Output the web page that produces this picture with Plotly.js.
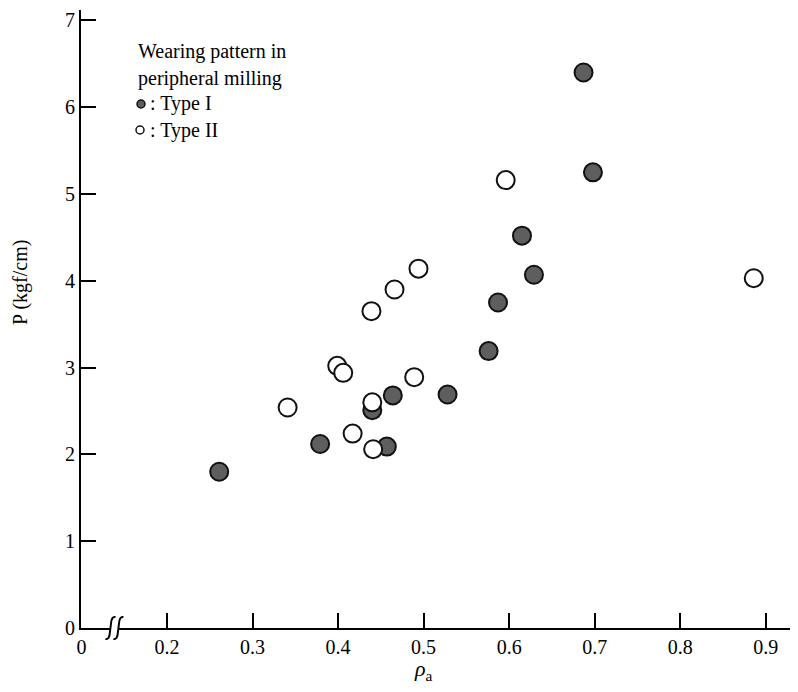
<!DOCTYPE html>
<html>
<head>
<meta charset="utf-8">
<script src="https://cdn.plot.ly/plotly-3.0.1.min.js"></script>
<style>html,body{margin:0;padding:0;background:#fff;}#chart{width:798px;height:692px;}</style>
</head>
<body>
<div id="chart"></div>
<script>
// Type I (filled) and Type II (open) points: rho_a vs P (kgf/cm)
const typeI_x = [0.261, 0.379, 0.440, 0.457, 0.464, 0.528, 0.576, 0.587, 0.615, 0.629, 0.687, 0.698];
const typeI_y = [1.80, 2.12, 2.51, 2.09, 2.68, 2.69, 3.19, 3.75, 4.52, 4.07, 6.40, 5.25];
const typeII_x = [0.341, 0.399, 0.406, 0.417, 0.440, 0.441, 0.439, 0.466, 0.489, 0.494, 0.596, 0.886];
const typeII_y = [2.54, 3.02, 2.94, 2.24, 2.60, 2.06, 3.65, 3.90, 2.89, 4.14, 5.16, 4.03];

const xTickVals = [0.1, 0.2, 0.3, 0.4, 0.5, 0.6, 0.7, 0.8, 0.9];
const xTickText = ['0', '0.2', '0.3', '0.4', '0.5', '0.6', '0.7', '0.8', '0.9'];
const yTickVals = [0, 1, 2, 3, 4, 5, 6, 7];
const yTickText = ['0', '1', '2', '3', '4', '5', '6', '7'];

const legendLines = ['Wearing pattern in', 'peripheral milling', ': Type I', ': Type II'];

const SERIF = '"Liberation Serif", "Times New Roman", serif';

const traces = [
  {
    x: typeI_x, y: typeI_y, type: 'scatter', mode: 'markers', name: 'Type I',
    marker: {symbol: 'circle', size: 18, color: '#5e5e5e', line: {color: '#111111', width: 2}}
  },
  {
    x: typeII_x, y: typeII_y, type: 'scatter', mode: 'markers', name: 'Type II',
    marker: {symbol: 'circle', size: 18, color: '#ffffff', line: {color: '#111111', width: 2}}
  }
];

const W = 798, H = 692, ML = 81, MR = 8, MT = 10, MB = 64;
const pw = W - ML - MR, ph = H - MT - MB;
const px = p => (p - ML) / pw;           // pixel -> paper x
const py = p => (H - MB - p) / ph;       // pixel -> paper y

const annotations = [
  {text: legendLines[0], x: px(136), y: py(52), xref: 'paper', yref: 'paper', xanchor: 'left', yanchor: 'middle', showarrow: false, font: {family: SERIF, size: 20, color: '#000'}},
  {text: legendLines[1], x: px(136), y: py(78), xref: 'paper', yref: 'paper', xanchor: 'left', yanchor: 'middle', showarrow: false, font: {family: SERIF, size: 20, color: '#000'}},
  {text: legendLines[2], x: px(148), y: py(104), xref: 'paper', yref: 'paper', xanchor: 'left', yanchor: 'middle', showarrow: false, font: {family: SERIF, size: 20, color: '#000'}},
  {text: legendLines[3], x: px(148), y: py(130), xref: 'paper', yref: 'paper', xanchor: 'left', yanchor: 'middle', showarrow: false, font: {family: SERIF, size: 20, color: '#000'}},
  {text: 'P (kgf/cm)', x: px(20), y: py(282), xref: 'paper', yref: 'paper', xanchor: 'center', yanchor: 'middle', textangle: -90, showarrow: false, font: {family: SERIF, size: 20, color: '#000'}},
  {text: '<i>ρ</i><sub>a</sub>', x: 0.5, xref: 'x', y: py(670), yref: 'paper', xanchor: 'center', yanchor: 'middle', showarrow: false, font: {family: SERIF, size: 22, color: '#000'}}
];

const shapes = [
  // legend symbols
  {type: 'circle', xref: 'paper', yref: 'paper', xsizemode: 'pixel', ysizemode: 'pixel', xanchor: px(141), yanchor: py(104), x0: -4, x1: 4, y0: -4, y1: 4, fillcolor: '#5e5e5e', line: {color: '#111', width: 1.5}},
  {type: 'circle', xref: 'paper', yref: 'paper', xsizemode: 'pixel', ysizemode: 'pixel', xanchor: px(140), yanchor: py(130), x0: -4, x1: 4, y0: -4, y1: 4, fillcolor: '#ffffff', line: {color: '#111', width: 1.5}},
  // axis break mark
  {type: 'rect', xref: 'x', yref: 'paper', xsizemode: 'pixel', ysizemode: 'pixel', xanchor: 0.1385, yanchor: 0, x0: -4, x1: 4, y0: -3, y1: 3, fillcolor: '#ffffff', line: {width: 0}, layer: 'above'},
  {type: 'path', xref: 'x', yref: 'paper', xsizemode: 'pixel', ysizemode: 'pixel', xanchor: 0.1385, yanchor: 0, path: 'M -9,-11 Q -5,-12 -4.5,-4 L -3.5,4 Q -3,12 1,11', line: {color: '#000', width: 2}, layer: 'above'},
  {type: 'path', xref: 'x', yref: 'paper', xsizemode: 'pixel', ysizemode: 'pixel', xanchor: 0.1385, yanchor: 0, path: 'M -1,-11 Q 3,-12 3.5,-4 L 4.5,4 Q 5,12 9,11', line: {color: '#000', width: 2}, layer: 'above'}
];

const layout = {
  width: W, height: H,
  margin: {l: ML, r: MR, t: MT, b: MB, pad: 0},
  paper_bgcolor: '#ffffff', plot_bgcolor: '#ffffff',
  showlegend: false,
  font: {family: SERIF, size: 20, color: '#000'},
  xaxis: {
    range: [0.0994, 0.9284], showgrid: false, zeroline: false,
    showline: true, linecolor: '#000', linewidth: 2,
    ticks: 'inside', ticklen: 15, tickwidth: 2, tickcolor: '#000',
    tickmode: 'array', tickvals: xTickVals, ticktext: xTickText,
    tickfont: {family: SERIF, size: 20, color: '#000'}
  },
  yaxis: {
    range: [0, 7.12], showgrid: false, zeroline: false,
    showline: true, linecolor: '#000', linewidth: 2,
    ticks: 'inside', ticklen: 15, tickwidth: 2, tickcolor: '#000',
    tickmode: 'array', tickvals: yTickVals, ticktext: yTickText,
    tickfont: {family: SERIF, size: 20, color: '#000'}
  },
  annotations: annotations,
  shapes: shapes
};

Plotly.newPlot('chart', traces, layout, {displayModeBar: false, staticPlot: true});
</script>
</body>
</html>
